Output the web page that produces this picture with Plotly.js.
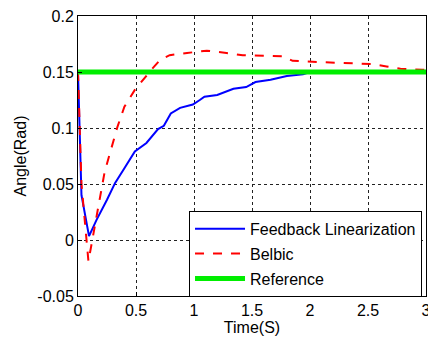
<!DOCTYPE html>
<html><head><meta charset="utf-8">
<script src="https://cdn.plot.ly/plotly-3.0.1.min.js"></script>
<style>html,body{margin:0;padding:0;background:#fff}#c{width:428px;height:341px}</style>
</head><body><div id="c"></div>
<script>
const fbT = [0, 0.03, 0.095, 0.16, 0.25, 0.32, 0.40, 0.49, 0.59, 0.69, 0.74, 0.80, 0.88, 0.99, 1.05, 1.09, 1.20, 1.34, 1.45, 1.53, 1.66, 1.80, 1.94, 2.0, 2.5, 3.0];
const fbY = [0.15, 0.04, 0.0035, 0.018, 0.036, 0.051, 0.064, 0.079, 0.0866, 0.099, 0.102, 0.113, 0.118, 0.121, 0.125, 0.128, 0.1295, 0.135, 0.1366, 0.141, 0.143, 0.1464, 0.148, 0.15, 0.15, 0.15];
const beT = [0, 0.03, 0.09, 0.23, 0.34, 0.40, 0.49, 0.56, 0.64, 0.71, 0.79, 0.94, 1.11, 1.28, 1.42, 1.77, 1.85, 2.06, 2.40, 2.54, 2.66, 2.78, 2.97, 3.0];
const beY = [0.15, 0.05, -0.019, 0.061, 0.101, 0.119, 0.134, 0.143, 0.153, 0.161, 0.165, 0.167, 0.169, 0.167, 0.165, 0.164, 0.160, 0.159, 0.158, 0.157, 0.155, 0.153, 0.152, 0.152];
const refT = [0, 3];
const refY = [0.15, 0.15];
const xTicks = [0, 0.5, 1, 1.5, 2, 2.5, 3];
const xTickText = ['0', '0.5', '1', '1.5', '2', '2.5', '3'];
const yTicks = [-0.05, 0, 0.05, 0.1, 0.15, 0.2];
const yTickText = ['-0.05', '0', '0.05', '0.1', '0.15', '0.2'];
const names = ['Feedback Linearization', 'Belbic', 'Reference'];

const traces = [
  {x: fbT, y: fbY, name: names[0], mode: 'lines', line: {color: '#0000ff', width: 2}, legendgroup: 'a'},
  {x: beT, y: beY, name: names[1], mode: 'lines', line: {color: '#ff0000', width: 2, dash: 'dash'}, legendgroup: 'b'},
  {x: refT, y: refY, name: names[2], mode: 'lines', line: {color: '#00ee00', width: 5}, legendgroup: 'c'}
];
const font = {family: 'Liberation Sans, Arial, sans-serif', size: 16, color: '#000'};
const layout = {
  width: 428, height: 341,
  margin: {l: 78, r: 2, t: 16, b: 45},
  paper_bgcolor: '#fff', plot_bgcolor: '#fff',
  font: font,
  showlegend: true,
  legend: {x: 0.319, y: 0.304, xanchor: 'left', yanchor: 'top', bgcolor: '#fff', bordercolor: '#000', borderwidth: 1,
    font: {family: font.family, size: 16, color: '#000'}, traceorder: 'grouped', tracegroupgap: 1, itemwidth: 50},
  xaxis: {range: [0, 3], tickvals: xTicks, ticktext: xTickText, ticks: 'inside', ticklen: 4, tickcolor: '#000',
    ticklabeloverflow: 'allow',
    showline: true, linecolor: '#000', mirror: true, linewidth: 1,
    showgrid: true, gridcolor: '#222', griddash: 'dot', gridwidth: 1, zeroline: false,
    title: {text: 'Time(S)', font: {size: 16}, standoff: 3}},
  yaxis: {range: [-0.05, 0.2], tickvals: yTicks, ticktext: yTickText, ticks: 'inside', ticklen: 4, tickcolor: '#000',
    showline: true, linecolor: '#000', mirror: true, linewidth: 1,
    showgrid: true, gridcolor: '#222', griddash: 'dot', gridwidth: 1, zeroline: false,
    title: {text: 'Angle(Rad)', font: {size: 16}, standoff: 6}}
};
Plotly.newPlot('c', traces, layout, {displayModeBar: false, staticPlot: true});
</script></body></html>
